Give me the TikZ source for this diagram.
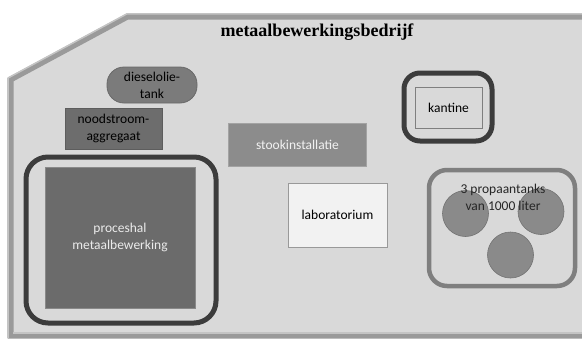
\documentclass[tikz,border=0pt]{standalone}
\usepackage{fontspec}
\setmainfont{Carlito}
\newfontfamily\titlefont{Liberation Serif}
\definecolor{bgfill}{HTML}{D9D9D9}
\definecolor{bordA}{HTML}{9A9A9A}
\definecolor{bordB}{HTML}{C4C4C4}
\definecolor{dieselc}{HTML}{7B7B7B}
\definecolor{noodc}{HTML}{6D6D6D}
\definecolor{stookc}{HTML}{8C8C8C}
\definecolor{procc}{HTML}{6B6B6B}
\definecolor{darkring}{HTML}{3C3C3C}
\definecolor{labc}{HTML}{F2F2F2}
\definecolor{tankc}{HTML}{8A8A8A}
\definecolor{ringc}{HTML}{7F7F7F}
\tikzset{
  lbl/.style={font=\fontsize{13.5}{17}\selectfont, align=center, inner sep=0pt},
  blockbox/.style={draw=#1!85!black, fill=#1, line width=0.8pt},
  thickring/.style={draw=darkring, line width=5pt, rounded corners=16pt},
  tankcirc/.style={circle, draw=ringc!90!black, fill=tankc, minimum size=46pt, inner sep=0pt, line width=0.6pt},
}
\begin{document}
\begin{tikzpicture}[x=1pt,y=-1pt]
\useasboundingbox (0,0) rectangle (582,338);
\begin{scope}
\clip (0,0) rectangle (582,338);
% site outline
\fill[bgfill] (10,79) -- (127,16) -- (600,16) -- (600,336) -- (10,336) -- cycle;
\draw[bordA, line width=6pt] (10.5,79.5) -- (127.5,16.5) -- (600,16.5) -- (600,335.5) -- (10.5,335.5) -- cycle;
\draw[bordB, line width=1.5pt] (8,78) -- (127,13.8) -- (600,13.8);
\draw[bordB, line width=1.5pt] (8,78) -- (8,338);
\draw[bordB, line width=1.5pt] (13,333) -- (600,333);
\end{scope}

\node[font=\titlefont\bfseries\fontsize{18}{20}\selectfont, inner sep=0pt] (title) at (317,32) {metaalbewerkingsbedrijf};

% dieselolie-tank
\node[blockbox=dieselc, rounded corners=17pt, minimum width=90pt, minimum height=36pt, lbl] (diesel) at (152,85) {};
\node[lbl] (dieseltxt) at (diesel.center) {dieselolie-\\tank};

% noodstroomaggregaat
\node[blockbox=noodc, minimum width=97pt, minimum height=41pt, lbl] (nood) at (113.5,128.5) {noodstroom-\\aggregaat};

% stookinstallatie
\node[blockbox=stookc, draw=stookc!80!white, minimum width=138pt, minimum height=43pt, lbl, text=white!95!black] (stook) at (297.5,145) {stookinstallatie};

% kantine
\draw[thickring] (404,73) rectangle (492,141);
\node[draw=ringc, fill=bgfill, line width=0.7pt, minimum width=67pt, minimum height=41pt, lbl] (kantine) at (448.5,107.5) {kantine};

% proceshal
\draw[thickring, rounded corners=22pt] (26,157) rectangle (216,323);
\node[blockbox=procc, draw=procc!80!white, minimum width=150pt, minimum height=141pt, lbl, text=white!92!black] (proc) at (120,237.5) {proceshal\\metaalbewerking};

% laboratorium
\node[draw=ringc!80!white, fill=labc, line width=0.8pt, minimum width=99pt, minimum height=64pt, lbl] (lab) at (337.5,215) {laboratorium};

% propaantanks
\draw[ringc, line width=4.5pt, rounded corners=18pt] (429,170) rectangle (575,286);
\node[tankcirc] (t1) at (465.5,213.5) {};
\node[tankcirc] (t2) at (541,211.5) {};
\node[tankcirc] (t3) at (510.5,255) {};
\node[lbl, text=black!85] (proptxt) at (503,197) {3 propaantanks\\van 1000 liter};
\end{tikzpicture}
\end{document}
